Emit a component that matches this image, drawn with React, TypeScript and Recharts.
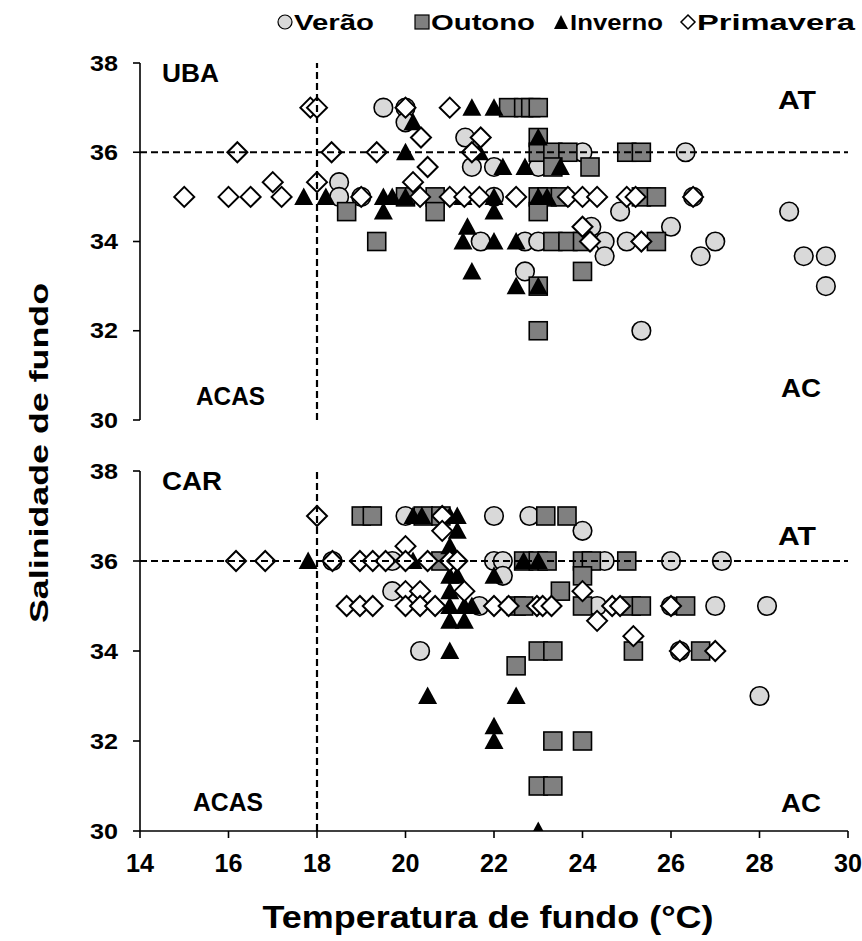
import React from "react";
import {
  ScatterChart,
  Scatter,
  XAxis,
  YAxis,
} from "recharts";

type Pt = { t: number; s: number };
const p = (t: number, s: number): Pt => ({ t, s });

// temperature ticks / salinity ticks
const xTicks = [14, 16, 18, 20, 22, 24, 26, 28, 30];
const yTicks = [30, 32, 34, 36, 38];

// water-mass limits (18 °C / 36)
const tempLimit = [p(18, 30), p(18, 38)];
const salLimit = [p(14, 36), p(30, 36)];

// ---- UBA ----
const ubaVerao = [
  p(19.5, 37), p(20, 37), p(20, 36.67), p(21.35, 36.33), p(24, 36), p(26.33, 36),
  p(21.5, 35.67), p(22, 35.67), p(23, 35.67), p(18.5, 35.33), p(18.5, 35), p(19, 35),
  p(22, 35), p(26.5, 35), p(24.85, 34.67), p(28.67, 34.67), p(24.2, 34.33), p(26, 34.33),
  p(21.7, 34), p(22.7, 34), p(23, 34), p(24.5, 34), p(25, 34), p(27, 34),
  p(24.5, 33.67), p(26.67, 33.67), p(29, 33.67), p(29.5, 33.67), p(22.7, 33.33),
  p(29.5, 33), p(25.33, 32),
];
const ubaOutono = [
  p(22.33, 37), p(22.67, 37), p(22.83, 37), p(23, 37), p(23, 36.33), p(23, 36),
  p(23.33, 36), p(23.67, 36), p(25, 36), p(25.33, 36), p(23.33, 35.67), p(24.17, 35.67),
  p(20, 35), p(20.67, 35), p(23, 35), p(23.2, 35), p(23.5, 35), p(25.33, 35), p(25.67, 35),
  p(18.67, 34.67), p(20.67, 34.67), p(23, 34.67), p(19.35, 34), p(23.33, 34),
  p(23.67, 34), p(24, 34), p(25.67, 34), p(24, 33.33), p(23, 33), p(23, 32),
];
const ubaInverno = [
  p(21.5, 37), p(22, 37), p(20.17, 36.67), p(23, 36.33), p(20, 36), p(21.67, 36),
  p(22.2, 35.67), p(22.7, 35.67), p(23.5, 35.67), p(17.7, 35), p(18.2, 35), p(19.5, 35),
  p(19.7, 35), p(20, 35), p(21.3, 35), p(22, 35), p(23, 35), p(23.2, 35),
  p(19.5, 34.67), p(22, 34.67), p(21.4, 34.33), p(21.3, 34), p(22, 34), p(22.5, 34),
  p(21.5, 33.33), p(22.5, 33), p(23, 33),
];
const ubaPrimavera = [
  p(17.85, 37), p(18, 37), p(20, 37), p(21, 37), p(20.35, 36.33), p(21.7, 36.33),
  p(16.2, 36), p(18.33, 36), p(19.35, 36), p(21.5, 36), p(20.5, 35.67), p(17, 35.33),
  p(18, 35.33), p(20.17, 35.33), p(15, 35), p(16, 35), p(16.5, 35), p(17.2, 35),
  p(19, 35), p(20.33, 35), p(21, 35), p(21.33, 35), p(21.67, 35), p(22.5, 35),
  p(23.67, 35), p(24, 35), p(24.33, 35), p(25, 35), p(25.2, 35), p(26.5, 35),
  p(24, 34.33), p(24.17, 34), p(25.33, 34),
];

// ---- CAR ----
const carVerao = [
  p(20, 37), p(22, 37), p(22.8, 37), p(24, 36.67), p(18.35, 36), p(19.7, 36),
  p(22, 36), p(22.2, 36), p(24.5, 36), p(26, 36), p(27.15, 36), p(22.2, 35.67),
  p(19.7, 35.33), p(21.67, 35), p(24.33, 35), p(26, 35), p(27, 35), p(28.17, 35),
  p(20.33, 34), p(26.2, 34), p(28, 33),
];
const carOutono = [
  p(19, 37), p(19.25, 37), p(20.4, 37), p(20.8, 37), p(23.17, 37), p(23.65, 37),
  p(20.8, 36), p(22.67, 36), p(23, 36), p(23.2, 36), p(24, 36), p(24.2, 36), p(25, 36),
  p(24, 35.67), p(23.5, 35.33), p(22.5, 35), p(22.67, 35), p(24, 35), p(25.1, 35),
  p(25.33, 35), p(26.33, 35), p(23, 34), p(23.33, 34), p(25.15, 34), p(26.67, 34),
  p(22.5, 33.67), p(23.33, 32), p(24, 32), p(23, 31), p(23.33, 31),
];
const carInverno = [
  p(17.8, 36), p(20.17, 37), p(20.37, 37), p(21, 37), p(21.17, 37), p(21.17, 36.67),
  p(21, 36.33), p(20.17, 36), p(22.67, 36), p(23, 36), p(21, 35.67), p(21.17, 35.67),
  p(22, 35.67), p(21, 35.33), p(21, 35), p(21.33, 35), p(21.5, 35), p(21, 34.67),
  p(21.33, 34.67), p(21, 34), p(20.5, 33), p(22.5, 33), p(22, 32.33), p(22, 32),
  p(23, 30),
];
const carPrimavera = [
  p(18, 37), p(20.83, 37), p(20.83, 36.67), p(20, 36.33), p(16.17, 36), p(16.83, 36),
  p(18.35, 36), p(18.97, 36), p(19.26, 36), p(19.55, 36), p(20, 36), p(20.5, 36),
  p(21, 36), p(21.17, 36), p(20, 35.33), p(20.33, 35.33), p(21.33, 35.33), p(24, 35.33),
  p(18.67, 35), p(18.97, 35), p(19.26, 35), p(20, 35), p(20.33, 35), p(20.67, 35),
  p(22, 35), p(22.33, 35), p(22.97, 35), p(23.1, 35), p(23.3, 35), p(24.67, 35),
  p(24.85, 35), p(26, 35), p(24.33, 34.67), p(25.15, 34.33), p(26.2, 34), p(27, 34),
];

const FONT = "'Liberation Sans', Arial, sans-serif";

const CircleMark = (props: any) => (
  <circle cx={props.cx} cy={props.cy} r={9.3} fill="#d9d9d9" stroke="#000" strokeWidth={1.6} />
);
const SquareMark = (props: any) => (
  <rect x={props.cx - 9} y={props.cy - 9} width={18} height={18} fill="#808080" stroke="#000" strokeWidth={1.6} />
);
const TriangleMark = (props: any) => {
  const { cx, cy } = props;
  return <polygon points={`${cx},${cy - 9.5} ${cx + 9.5},${cy + 8} ${cx - 9.5},${cy + 8}`} fill="#000" />;
};
const DiamondMark = (props: any) => {
  const { cx, cy } = props;
  return (
    <polygon
      points={`${cx},${cy - 10} ${cx + 10},${cy} ${cx},${cy + 10} ${cx - 10},${cy}`}
      fill="#fff"
      stroke="#000"
      strokeWidth={2}
    />
  );
};
const NoMark = () => <g />;

const tickStyle = { fontFamily: FONT, fontWeight: 700, fill: "#000" };

const YTick = (props: any) => (
  <text x={props.x} y={props.y} textAnchor="end" dominantBaseline="central"
    style={{ ...tickStyle, fontSize: 22 }} textLength={28} lengthAdjust="spacingAndGlyphs">
    {props.payload.value}
  </text>
);
const XTick = (props: any) => (
  <text x={props.x} y={props.y} dy="0.72em" textAnchor="middle"
    style={{ ...tickStyle, fontSize: 25 }} textLength={28} lengthAdjust="spacingAndGlyphs">
    {props.payload.value}
  </text>
);

const dashed = { stroke: "#000", strokeWidth: 2.2, strokeDasharray: "7 4" };

function Panel({ data, showX, height, margin }: any) {
  const [v, o, i, pr] = data;
  return (
    <ScatterChart width={862} height={height} margin={margin}>
      <XAxis
        type="number"
        dataKey="t"
        domain={[14, 30]}
        ticks={xTicks}
        allowDataOverflow
        height={showX ? 110 : 0}
        tickSize={7}
        tickMargin={16}
        tick={showX ? (t: any) => <XTick {...t} /> : false}
        axisLine={{ stroke: "#000", strokeWidth: 1.6 }}
        tickLine={{ stroke: "#000", strokeWidth: 1.6 }}
      />
      <YAxis
        type="number"
        dataKey="s"
        domain={[30, 38]}
        ticks={yTicks}
        allowDataOverflow
        width={140}
        tickSize={7}
        tickMargin={15}
        tick={(t: any) => <YTick {...t} />}
        axisLine={{ stroke: "#000", strokeWidth: 1.6 }}
        tickLine={{ stroke: "#000", strokeWidth: 1.6 }}
      />
      <Scatter data={v} shape={CircleMark} isAnimationActive={false} />
      <Scatter data={o} shape={SquareMark} isAnimationActive={false} />
      <Scatter data={i} shape={TriangleMark} isAnimationActive={false} />
      <Scatter data={pr} shape={DiamondMark} isAnimationActive={false} />
      <Scatter data={tempLimit} shape={NoMark} fill="none" line={dashed} isAnimationActive={false} />
      <Scatter data={salLimit} shape={NoMark} fill="none" line={dashed} isAnimationActive={false} />
    </ScatterChart>
  );
}

const Txt = ({ x, y, w, size = 25, children, anchor = "start" }: any) => (
  <text x={x} y={y} dominantBaseline="central" fontSize={size} fontWeight="bold" fontFamily={FONT}
    fill="#000" textAnchor={anchor} textLength={w} lengthAdjust="spacingAndGlyphs">
    {children}
  </text>
);

export default function App() {
  return (
    <div style={{ position: "absolute", left: 0, top: 0, width: 862, height: 941, background: "#fff" }}>
      <div style={{ position: "absolute", left: 0, top: 0 }}>
        <Panel
          data={[ubaVerao, ubaOutono, ubaInverno, ubaPrimavera]}
          showX={false}
          height={440}
          margin={{ top: 63, right: 14, bottom: 20, left: 0 }}
        />
      </div>
      <div style={{ position: "absolute", left: 0, top: 440 }}>
        <Panel
          data={[carVerao, carOutono, carInverno, carPrimavera]}
          showX={true}
          height={501}
          margin={{ top: 31, right: 14, bottom: 0, left: 0 }}
        />
      </div>
      <svg width={862} height={941} style={{ position: "absolute", left: 0, top: 0, pointerEvents: "none" }}>
        {/* legend */}
        <circle cx={285} cy={22} r={7} fill="#d9d9d9" stroke="#000" strokeWidth={1.2} />
        <Txt x={294} y={22} w={80} size={22}>Verão</Txt>
        <rect x={415} y={15} width={14} height={14} fill="#808080" stroke="#000" strokeWidth={1.2} />
        <Txt x={431} y={22} w={104} size={22}>Outono</Txt>
        <polygon points="561,15 568,29 554,29" fill="#000" />
        <Txt x={570} y={22} w={93} size={22}>Inverno</Txt>
        <polygon points="688,15 695,22 688,29 681,22" fill="#fff" stroke="#000" strokeWidth={1.5} />
        <Txt x={697} y={22} w={158} size={22}>Primavera</Txt>

        {/* panel annotations */}
        <Txt x={162} y={73} w={57}>UBA</Txt>
        <Txt x={778} y={100} w={38}>AT</Txt>
        <Txt x={196} y={396} w={69}>ACAS</Txt>
        <Txt x={781} y={388} w={40}>AC</Txt>
        <Txt x={162} y={481} w={60}>CAR</Txt>
        <Txt x={778} y={536} w={38}>AT</Txt>
        <Txt x={193} y={802} w={70}>ACAS</Txt>
        <Txt x={781} y={803} w={40}>AC</Txt>

        {/* axis titles */}
        <text x={488} y={928} textAnchor="middle" fontSize={32} fontWeight="bold" fontFamily={FONT}
          textLength={451} lengthAdjust="spacingAndGlyphs">Temperatura de fundo (°C)</text>
        <text transform="translate(48,453) rotate(-90)" textAnchor="middle" fontSize={25} fontWeight="bold"
          fontFamily={FONT} textLength={340} lengthAdjust="spacingAndGlyphs">Salinidade de fundo</text>
      </svg>
    </div>
  );
}
